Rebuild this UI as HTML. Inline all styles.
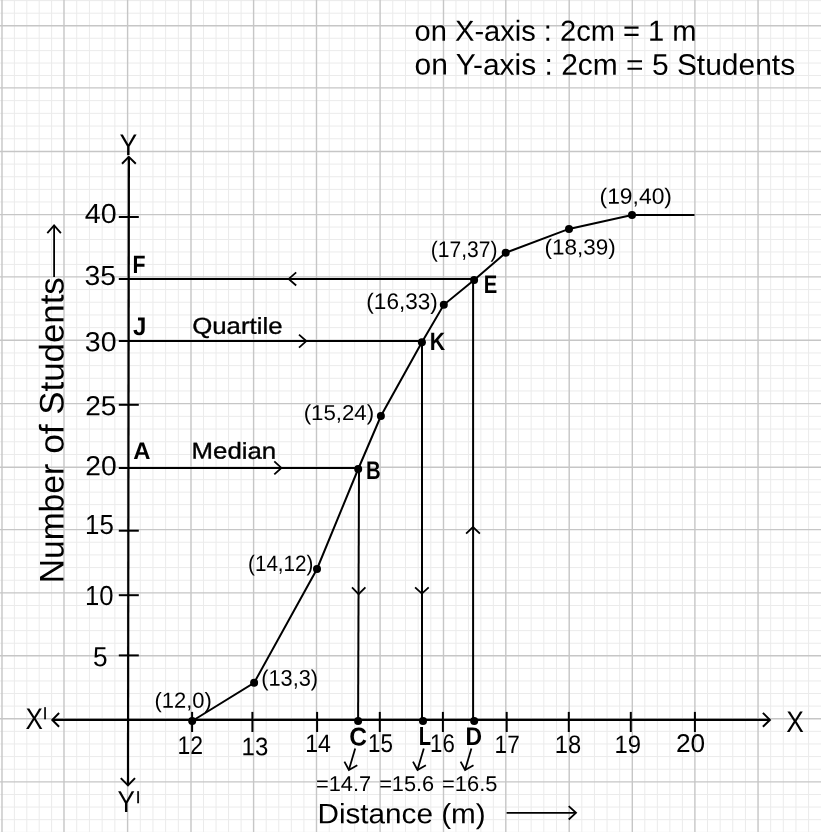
<!DOCTYPE html>
<html><head><meta charset="utf-8"><title>Ogive</title>
<style>
html,body{margin:0;padding:0;background:#fff;}
svg{display:block;}
text{font-family:'Liberation Sans', sans-serif;fill:#000;text-rendering:geometricPrecision;}
</style></head>
<body>
<svg width="821" height="832" viewBox="0 0 821 832">
<rect width="821" height="832" fill="#fff"/>
<path d="M14.40 0V832M26.80 0V832M39.20 0V832M51.60 0V832M76.72 0V832M89.44 0V832M102.16 0V832M114.88 0V832M140.28 0V832M152.96 0V832M165.64 0V832M178.32 0V832M203.52 0V832M216.04 0V832M228.56 0V832M241.08 0V832M266.18 0V832M278.76 0V832M291.34 0V832M303.92 0V832M329.22 0V832M341.94 0V832M354.66 0V832M367.38 0V832M392.78 0V832M405.46 0V832M418.14 0V832M430.82 0V832M455.96 0V832M468.42 0V832M480.88 0V832M493.34 0V832M518.48 0V832M531.16 0V832M543.84 0V832M556.52 0V832M581.82 0V832M594.44 0V832M607.06 0V832M619.68 0V832M644.82 0V832M657.34 0V832M669.86 0V832M682.38 0V832M707.53 0V832M720.16 0V832M732.79 0V832M745.42 0V832M770.68 0V832M783.31 0V832M795.94 0V832M808.57 0V832M0 0.60H821M0 13.20H821M0 38.22H821M0 50.64H821M0 63.06H821M0 75.48H821M0 100.62H821M0 113.34H821M0 126.06H821M0 138.78H821M0 164.12H821M0 176.74H821M0 189.36H821M0 201.98H821M0 227.06H821M0 239.52H821M0 251.98H821M0 264.44H821M0 289.58H821M0 302.26H821M0 314.94H821M0 327.62H821M0 352.96H821M0 365.62H821M0 378.28H821M0 390.94H821M0 416.32H821M0 429.04H821M0 441.76H821M0 454.48H821M0 479.68H821M0 492.16H821M0 504.64H821M0 517.12H821M0 542.26H821M0 554.92H821M0 567.58H821M0 580.24H821M0 605.48H821M0 618.06H821M0 630.64H821M0 643.22H821M0 668.38H821M0 680.96H821M0 693.54H821M0 706.12H821M0 731.33H821M0 743.96H821M0 756.59H821M0 769.22H821M0 794.46H821M0 807.07H821M0 819.68H821M0 832.29H821" stroke="#ebebeb" stroke-width="1.0" fill="none"/>
<path d="M2.00 0V832M64.00 0V832M127.60 0V832M191.00 0V832M253.60 0V832M316.50 0V832M380.10 0V832M443.50 0V832M505.80 0V832M569.20 0V832M632.30 0V832M694.90 0V832M758.05 0V832M0 25.80H821M0 87.90H821M0 151.50H821M0 214.60H821M0 276.90H821M0 340.30H821M0 403.60H821M0 467.20H821M0 529.60H821M0 592.90H821M0 655.80H821M0 718.70H821M0 781.85H821" stroke="#c6c6c6" stroke-width="1.4" fill="none"/>
<g stroke="#000" fill="none" stroke-linecap="butt" stroke-linejoin="miter">
<path d="M52.5 719.9L769.5 719.9" stroke-width="2.2"/>
<path d="M128.9 157.2L128.0 785.0" stroke-width="2.2"/>
<path d="M59.1 713.0L52.3 719.9L59.1 726.8" stroke-width="2.0"/>
<path d="M762.9 712.9L769.9 719.9L762.9 726.8" stroke-width="2.0"/>
<path d="M122.0 163.7L128.8 156.9L135.8 163.7" stroke-width="2.0"/>
<path d="M120.8 778.1L128.0 785.4L135.0 778.1" stroke-width="2.0"/>
<path d="M118.8 217.0L138.8 217.0" stroke-width="2.0"/>
<path d="M118.8 404.8L138.8 404.8" stroke-width="2.0"/>
<path d="M118.8 530.7L138.8 530.7" stroke-width="2.0"/>
<path d="M118.8 595.2L138.8 595.2" stroke-width="2.0"/>
<path d="M118.8 655.4L138.8 655.4" stroke-width="2.0"/>
<path d="M192.1 711.9L192.1 732.0" stroke-width="2.0"/>
<path d="M252.4 711.9L252.4 732.0" stroke-width="2.0"/>
<path d="M317.1 711.9L317.1 732.0" stroke-width="2.0"/>
<path d="M379.8 711.9L379.8 732.0" stroke-width="2.0"/>
<path d="M442.9 711.9L442.9 732.0" stroke-width="2.0"/>
<path d="M506.7 711.9L506.7 732.0" stroke-width="2.0"/>
<path d="M568.8 711.9L568.8 732.0" stroke-width="2.0"/>
<path d="M630.8 711.9L630.8 732.0" stroke-width="2.0"/>
<path d="M694.9 711.9L694.9 732.0" stroke-width="2.0"/>
<path d="M118.8 278.9L474.1 278.9" stroke-width="2.0"/>
<path d="M118.8 341.1L422.1 341.1" stroke-width="2.0"/>
<path d="M118.8 467.9L358.0 467.9" stroke-width="2.0"/>
<path d="M359.0 468.5L358.1 720.5" stroke-width="2.0"/>
<path d="M422.0 341.5L422.0 720.5" stroke-width="2.0"/>
<path d="M473.1 279.5L473.1 720.5" stroke-width="2.0"/>
<path d="M296.2 272.4L288.7 278.9L296.2 285.5" stroke-width="1.8"/>
<path d="M299.0 334.6L306.3 341.1L299.0 347.6" stroke-width="1.8"/>
<path d="M274.3 461.4L281.4 467.9L274.3 474.4" stroke-width="1.8"/>
<path d="M352.0 587.4L358.6 594.2L365.4 587.4" stroke-width="1.8"/>
<path d="M415.1 587.3L421.9 593.6L428.7 587.3" stroke-width="1.8"/>
<path d="M466.1 533.6L473.0 527.0L479.9 533.6" stroke-width="1.8"/>
<path d="M192.2 721.0L254.1 682.8L317.0 569.0L358.2 469.0L380.9 416.0L421.9 342.2L443.8 304.8L474.1 279.9L505.7 252.8L569.0 228.9L632.0 214.9L694.5 214.9" stroke-width="2.0"/>
<path d="M355.2 748.4L348.9 769.8" stroke-width="1.8"/>
<path d="M344.4 761.6L348.9 770.0L357.3 765.2" stroke-width="1.8"/>
<path d="M423.79999999999995 748.4L417.5 769.8" stroke-width="1.8"/>
<path d="M413.0 761.6L417.5 770.0L425.9 765.2" stroke-width="1.8"/>
<path d="M471.4 748.4L465.09999999999997 769.8" stroke-width="1.8"/>
<path d="M460.59999999999997 761.6L465.09999999999997 770.0L473.5 765.2" stroke-width="1.8"/>
<path d="M506.6 812.8L575.4 812.8" stroke-width="1.8"/>
<path d="M568.7 806.2L576.0 812.8L568.7 819.5" stroke-width="1.8"/>
<path d="M54.1 277.0L54.1 226.0" stroke-width="1.8"/>
<path d="M47.3 233.1L54.1 225.4L60.9 233.1" stroke-width="1.8"/>
</g>
<g fill="#000"><circle cx="192.2" cy="721.0" r="4.0"/><circle cx="254.1" cy="682.8" r="4.0"/><circle cx="317.0" cy="569.0" r="4.0"/><circle cx="358.2" cy="469.0" r="4.0"/><circle cx="380.9" cy="416.0" r="4.0"/><circle cx="421.9" cy="342.3" r="4.0"/><circle cx="443.8" cy="304.8" r="4.0"/><circle cx="474.1" cy="279.9" r="4.0"/><circle cx="505.7" cy="252.8" r="4.0"/><circle cx="569.0" cy="228.9" r="4.0"/><circle cx="632.0" cy="214.9" r="4.0"/><circle cx="358.1" cy="721.0" r="4.0"/><circle cx="423.0" cy="721.0" r="4.0"/><circle cx="474.2" cy="721.0" r="4.0"/></g>
<g>
<text transform="translate(414.59 40.70) rotate(0.03) scale(1.0057 1)" font-size="28.92">on X-axis : 2cm = 1 m</text>
<text transform="translate(414.56 74.60) rotate(0.03) scale(1.0109 1)" font-size="29.65">on Y-axis : 2cm = 5 Students</text>
<text transform="translate(119.39 155.10) rotate(0.03) scale(0.8928 1)" font-size="29.72">Y</text>
<text transform="translate(84.75 223.00) rotate(0.03) scale(1.0372 1)" font-size="27.62">40</text>
<text transform="translate(84.62 285.10) rotate(0.03) scale(1.0231 1)" font-size="27.62">35</text>
<text transform="translate(84.81 351.30) rotate(0.03) scale(1.0320 1)" font-size="27.62">30</text>
<text transform="translate(85.18 415.30) rotate(0.03) scale(1.0175 1)" font-size="27.62">25</text>
<text transform="translate(85.18 475.35) rotate(0.03) scale(1.0231 1)" font-size="27.62">20</text>
<text transform="translate(85.08 534.05) rotate(0.03) scale(0.9364 1)" font-size="27.62">15</text>
<text transform="translate(85.10 605.05) rotate(0.03) scale(0.9292 1)" font-size="27.62">10</text>
<text transform="translate(92.98 666.15) rotate(0.03) scale(0.9494 1)" font-size="27.62">5</text>
<text transform="translate(599.53 203.70) rotate(0.03) scale(1.0317 1)" font-size="22.17">(19,40)</text>
<text transform="translate(544.44 254.50) rotate(0.03) scale(1.0290 1)" font-size="21.88">(18,39)</text>
<text transform="translate(430.81 256.90) rotate(0.03) scale(0.9311 1)" font-size="22.60">(17,37)</text>
<text transform="translate(366.34 309.10) rotate(0.03) scale(0.9974 1)" font-size="22.60">(16,33)</text>
<text transform="translate(303.66 419.90) rotate(0.03) scale(1.0308 1)" font-size="21.58">(15,24)</text>
<text transform="translate(248.03 570.80) rotate(0.03) scale(0.9257 1)" font-size="22.31">(14,12)</text>
<text transform="translate(261.18 685.80) rotate(0.03) scale(0.9646 1)" font-size="22.60">(13,3)</text>
<text transform="translate(154.47 707.70) rotate(0.03) scale(1.0021 1)" font-size="21.88">(12,0)</text>
<text transform="translate(25.39 729.30) rotate(0.03) scale(0.8727 1)" font-size="29.87">X</text>
<text transform="translate(786.19 732.00) rotate(0.03) scale(0.8832 1)" font-size="29.87">X</text>
<text transform="translate(117.59 812.30) rotate(0.03) scale(0.8602 1)" font-size="30.31">Y</text>
<text transform="translate(177.56 753.80) rotate(0.03) scale(0.8986 1)" font-size="25.58">12</text>
<text transform="translate(241.60 755.20) rotate(0.03) scale(0.9454 1)" font-size="25.36">13</text>
<text transform="translate(305.15 751.90) rotate(0.03) scale(0.9170 1)" font-size="25.22">14</text>
<text transform="translate(368.00 751.80) rotate(0.03) scale(0.8729 1)" font-size="25.65">15</text>
<text transform="translate(430.11 752.20) rotate(0.03) scale(0.8701 1)" font-size="25.51">16</text>
<text transform="translate(494.59 753.00) rotate(0.03) scale(0.8958 1)" font-size="25.22">17</text>
<text transform="translate(554.82 753.00) rotate(0.03) scale(0.9390 1)" font-size="25.22">18</text>
<text transform="translate(614.51 753.00) rotate(0.03) scale(0.9430 1)" font-size="25.22">19</text>
<text transform="translate(675.97 752.00) rotate(0.03) scale(1.0227 1)" font-size="25.65">20</text>
<text transform="translate(315.98 791.10) rotate(0.03) scale(1.0193 1)" font-size="21.37">=14.7</text>
<text transform="translate(379.18 791.10) rotate(0.03) scale(1.0173 1)" font-size="21.37">=15.6</text>
<text transform="translate(442.08 791.10) rotate(0.03) scale(1.0231 1)" font-size="21.37">=16.5</text>
<text transform="translate(317.48 823.30) rotate(0.03) scale(1.0556 1)" font-size="28.12">Distance (m)</text>
<text transform="translate(192.19 333.70) rotate(0.03) scale(1.1201 1)" font-size="23.04" stroke="#000" stroke-width="0.35">Quartile</text>
<text transform="translate(191.58 458.60) rotate(0.03) scale(1.1312 1)" font-size="22.82" stroke="#000" stroke-width="0.35">Median</text>
<text transform="translate(132.57 272.80) rotate(0.03) scale(0.8460 1)" font-size="25.22" font-weight="bold">F</text>
<text transform="translate(133.10 334.90) rotate(0.03) scale(0.9462 1)" font-size="25.36" font-weight="bold">J</text>
<text transform="translate(133.23 458.90) rotate(0.03) scale(1.0007 1)" font-size="23.84" font-weight="bold">A</text>
<text transform="translate(483.74 292.90) rotate(0.03) scale(0.7956 1)" font-size="25.44" font-weight="bold">E</text>
<text transform="translate(429.67 350.10) rotate(0.03) scale(0.8509 1)" font-size="25.07" font-weight="bold">K</text>
<text transform="translate(365.93 478.60) rotate(0.03) scale(0.8012 1)" font-size="25.36" font-weight="bold">B</text>
<text transform="translate(349.13 745.60) rotate(0.03) scale(0.9546 1)" font-size="25.73" font-weight="bold">C</text>
<text transform="translate(418.84 745.10) rotate(0.03) scale(0.7741 1)" font-size="26.02" font-weight="bold">L</text>
<text transform="translate(465.57 745.10) rotate(0.03) scale(0.8995 1)" font-size="25.44" font-weight="bold">D</text>
<text transform="translate(63.50 583.32) rotate(-89.97) scale(0.9836 1)" font-size="34.16">Number</text>
<text transform="translate(63.50 453.80) rotate(-89.97) scale(1.0350 1)" font-size="34.16">of</text>
<text transform="translate(63.50 414.79) rotate(-89.97) scale(1.0204 1)" font-size="34.16">Students</text>
<text x="42.8" y="719.4" font-size="16.7" stroke="#000" stroke-width="0.3">I</text><text x="135.7" y="802.75" font-size="17" stroke="#000" stroke-width="0.3">I</text>
</g>
</svg>
</body></html>
